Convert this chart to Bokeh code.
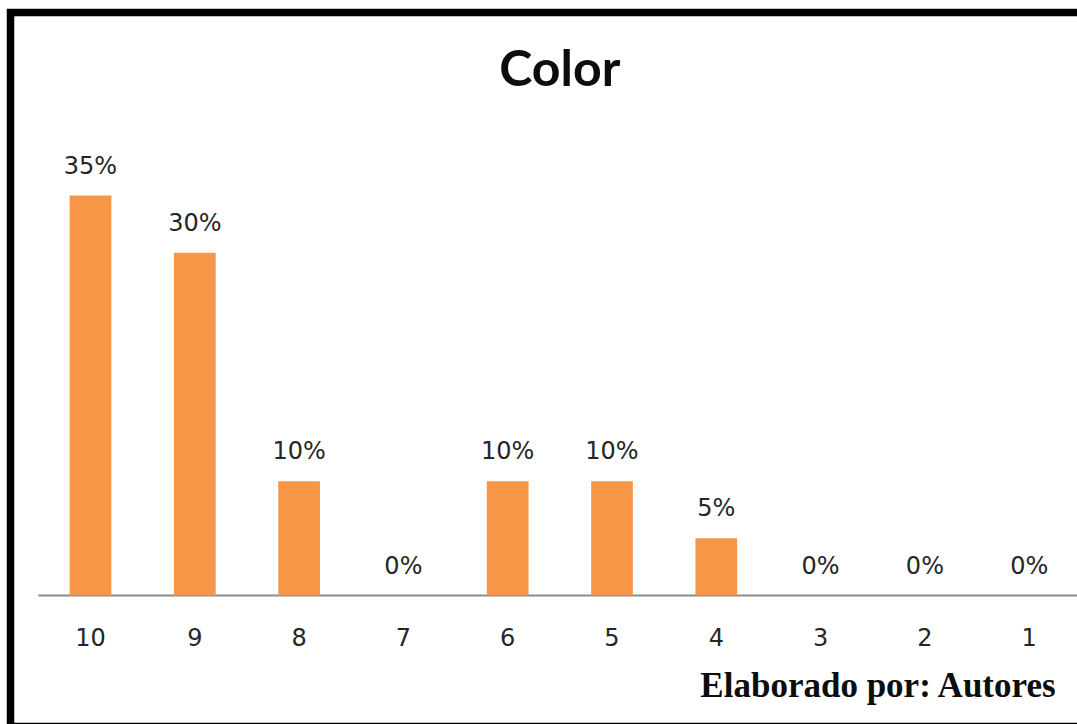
from bokeh.plotting import figure
from bokeh.models import Range1d, ColumnDataSource, Label
from bokeh.core.properties import value
from bokeh.embed import file_html
from bokeh.resources import INLINE

# ---- data ----
categories = ["10", "9", "8", "7", "6", "5", "4", "3", "2", "1"]
shares = [0.35, 0.30, 0.10, 0.00, 0.10, 0.10, 0.05, 0.00, 0.00, 0.00]
share_labels = ["35%", "30%", "10%", "0%", "10%", "10%", "5%", "0%", "0%", "0%"]
title_text = "Color"
source_text = "Elaborado por: Autores"

# ---- layout constants (pixels) ----
W, H = 1071, 716
BL, BT, BB, BR = 8, 8, 2, 0
frame_w = W - BL - BR
frame_h = H - BT - BB
x_first_px = 90 - 14      # first category centre, from frame left
x_step_px = 104.3
base_px = 595 - 16        # baseline from frame top
y_unit_px = 400 / 0.35

x0 = -x_first_px / x_step_px
x1 = x0 + frame_w / x_step_px
y1 = base_px / y_unit_px
y0 = y1 - frame_h / y_unit_px

idx = list(range(len(categories)))
src = ColumnDataSource(dict(x=idx, cat=categories, v=shares, lab=share_labels,
                            zero=[0] * len(idx)))

p = figure(width=W, height=H, x_range=Range1d(x0, x1), y_range=Range1d(y0, y1),
           output_backend="svg", toolbar_location=None,
           x_axis_location=None, y_axis_location=None,
           min_border_left=BL, min_border_top=BT, min_border_bottom=BB,
           min_border_right=BR, border_fill_color="black",
           background_fill_color="white", outline_line_color=None)
p.margin = (8, 0, 0, 6)
p.xgrid.visible = False
p.ygrid.visible = False

# baseline
p.segment(x0=[-0.5], y0=[0], x1=[x1 + 1], y1=[0], line_color="#8c8c8c", line_width=2)

# bars
p.vbar(x="x", top="v", bottom=0, width=0.4, source=src,
       fill_color="#F79646", line_color=None)

# value labels
p.text(x="x", y="v", text="lab", source=src, text_font=value("DejaVu Sans"),
       text_font_size="24px", text_align="center", text_baseline="middle",
       y_offset=-30, text_color="#262626")

# category labels
p.text(x="x", y="zero", text="cat", source=src, text_font=value("DejaVu Sans"),
       text_font_size="24px", text_align="center", text_baseline="middle",
       y_offset=41, text_color="#262626")

# title
p.add_layout(Label(x=(len(idx) - 1) / 2, y=(595 - 66) / y_unit_px, text=title_text,
                   text_font="Lato", text_font_style="bold", text_font_size="50px",
                   text_align="center", text_baseline="middle", text_color="#0d0d0d"))

# source note
p.add_layout(Label(x=(1057 - 90) / x_step_px, y=(595 - 685) / y_unit_px, text=source_text,
                   text_font="Liberation Serif", text_font_style="bold",
                   text_font_size="35px", text_align="right", text_baseline="middle",
                   text_color="#0d0d0d"))

open("out.html", "w").write(file_html(p, INLINE))
